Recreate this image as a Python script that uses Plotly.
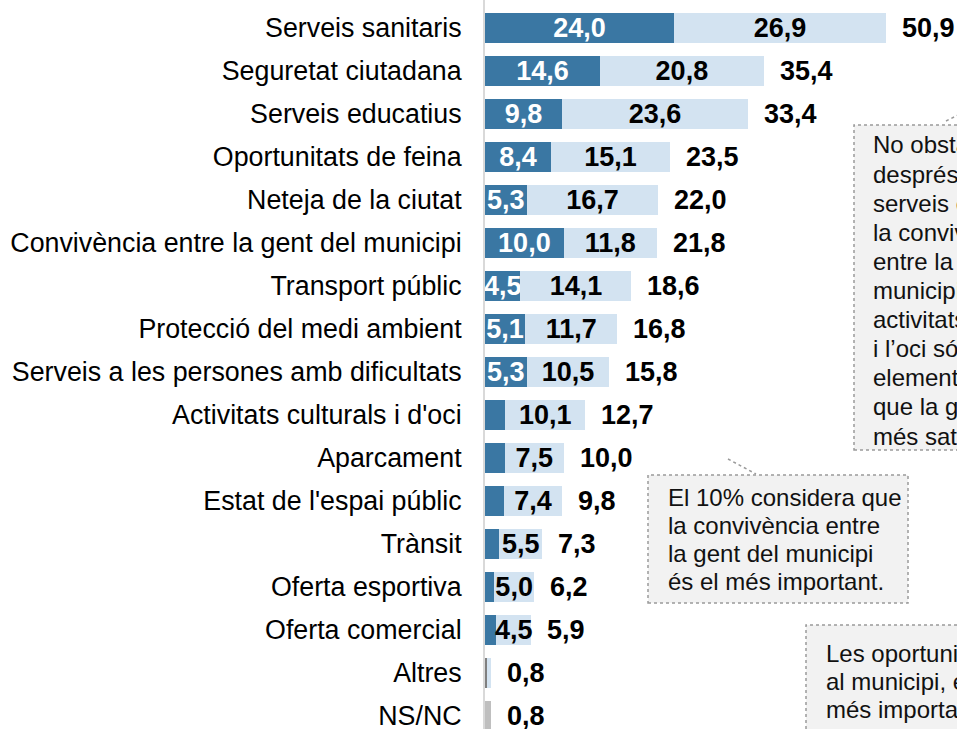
import plotly.graph_objects as go

categories = [
    "Serveis sanitaris", "Seguretat ciutadana", "Serveis educatius",
    "Oportunitats de feina", "Neteja de la ciutat",
    "Convivència entre la gent del municipi", "Transport públic",
    "Protecció del medi ambient", "Serveis a les persones amb dificultats",
    "Activitats culturals i d'oci", "Aparcament", "Estat de l'espai públic",
    "Trànsit", "Oferta esportiva", "Oferta comercial", "Altres", "NS/NC",
]
first_choice = [24.0, 14.6, 9.8, 8.4, 5.3, 10.0, 4.5, 5.1, 5.3, 2.6, 2.5, 2.4, 1.8, 1.2, 1.4, 0.3, 0.8]
second_choice = [26.9, 20.8, 23.6, 15.1, 16.7, 11.8, 14.1, 11.7, 10.5, 10.1, 7.5, 7.4, 5.5, 5.0, 4.5, 0.5, 0.0]
totals = [50.9, 35.4, 33.4, 23.5, 22.0, 21.8, 18.6, 16.8, 15.8, 12.7, 10.0, 9.8, 7.3, 6.2, 5.9, 0.8, 0.8]
show_first_label = [True] * 9 + [False] * 8
show_second_label = [True] * 15 + [False] * 2

box1_lines = ["No obstant això,", "després dels", "serveis educatius,", "la convivència",
              "entre la gent del", "municipi i les", "activitats culturals",
              "i l’oci són els", "elements amb els", "que la gent està", "més satisfeta."]
box2_lines = ["El 10% considera que", "la convivència entre", "la gent del municipi",
              "és el més important."]
box3_lines = ["Les oportunitats de feina", "al municipi, en canvi, són", "més importants per a la gent."]

DARK = "#3a77a3"
LIGHT = "#d3e3f1"
FONT = "Liberation Sans, Arial, sans-serif"

def fmt(v):
    return f"{v:.1f}".replace(".", ",")

first_colors = [DARK] * 15 + ["#7f7f7f", "#bfbfbf"]
first_text = [fmt(v) if s else "" for v, s in zip(first_choice, show_first_label)]
second_text = [fmt(v) if s else "" for v, s in zip(second_choice, show_second_label)]

W, H = 957, 729
L = 485
PX_PER_UNIT = 7.875
ROW0, ROWSTEP = 28, 43

fig = go.Figure()
fig.add_trace(go.Bar(
    orientation="h", y=categories, x=first_choice,
    marker=dict(color=first_colors, line=dict(width=0)),
    text=first_text, textposition="inside", insidetextanchor="middle",
    constraintext="none",
    textfont=dict(family=FONT, size=27, color="white", weight="bold"),
    hoverinfo="skip",
))
fig.add_trace(go.Bar(
    orientation="h", y=categories, x=second_choice,
    marker=dict(color=LIGHT, line=dict(width=0)),
    text=second_text, textposition="inside", insidetextanchor="middle",
    constraintext="none",
    textfont=dict(family=FONT, size=27, color="black", weight="bold"),
    hoverinfo="skip",
))

annotations = []
for c, t in zip(categories, totals):
    annotations.append(dict(
        x=t, y=c, xref="x", yref="y", text=fmt(t), showarrow=False,
        xanchor="left", yanchor="middle", xshift=14,
        font=dict(family=FONT, size=27, color="black", weight="bold"),
    ))

def px_x(p):
    return (p - L) / (W - L)

def px_y(p):
    return 1 - p / H

def add_lines(lines, x_px, y0_px, step):
    for i, line in enumerate(lines):
        annotations.append(dict(
            x=px_x(x_px), y=px_y(y0_px + i * step), xref="paper", yref="paper",
            text=line, showarrow=False, xanchor="left", yanchor="middle",
            font=dict(family=FONT, size=24, color="#111111"),
        ))

add_lines(box1_lines, 871, 145, 29.1)
add_lines(box2_lines, 666, 497, 28)
add_lines(box3_lines, 824, 653, 28)

box_style = dict(type="rect", xref="paper", yref="paper", fillcolor="#f2f2f2",
                 line=dict(color="#9a9a9a", width=1.5, dash="dot"), layer="below")
shapes = [
    dict(box_style, x0=px_x(854), x1=px_x(1100), y0=px_y(450), y1=px_y(125)),
    dict(box_style, x0=px_x(648), x1=px_x(908), y0=px_y(603), y1=px_y(475)),
    dict(box_style, x0=px_x(806), x1=px_x(1100), y0=px_y(800), y1=px_y(625)),
    dict(type="line", xref="paper", yref="paper", x0=px_x(728), y0=px_y(459),
         x1=px_x(756), y1=px_y(474), line=dict(color="#9a9a9a", width=1.5, dash="dot")),
    dict(type="line", xref="paper", yref="paper", x0=px_x(946), y0=px_y(121),
         x1=px_x(960), y1=px_y(114), line=dict(color="#9a9a9a", width=1.5, dash="dot")),
]

fig.update_layout(
    width=W, height=H,
    margin=dict(l=L, r=0, t=0, b=0, autoexpand=False),
    barmode="stack", bargap=0.3, showlegend=False,
    plot_bgcolor="white", paper_bgcolor="white",
    annotations=annotations, shapes=shapes,
    xaxis=dict(visible=False, range=[0, (W - L) / PX_PER_UNIT], fixedrange=True),
    yaxis=dict(
        categoryorder="array", categoryarray=categories,
        range=[(H - ROW0) / ROWSTEP, -ROW0 / ROWSTEP],
        showline=True, linecolor="#d9d9d9", linewidth=2, showgrid=False,
        zeroline=False, ticks="", ticklabelstandoff=16,
        tickfont=dict(family=FONT, size=26.8, color="black"),
        fixedrange=True,
    ),
)

fig.write_html(
    "out.html",
    config={"displayModeBar": False},
    post_script="document.body.style.margin='0';document.body.style.overflow='hidden';",
)
